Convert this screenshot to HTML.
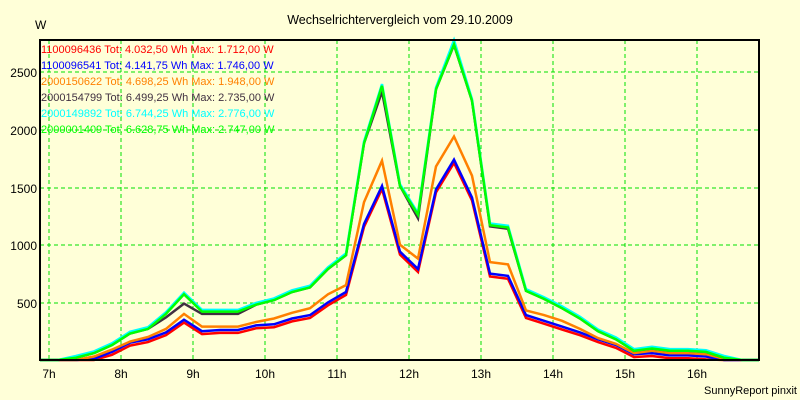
<!DOCTYPE html>
<html><head><meta charset="utf-8"><style>
html,body{margin:0;padding:0;background:#ffffd8;}
svg{display:block;font-family:"Liberation Sans",sans-serif;}
</style></head><body>
<svg id="s" width="800" height="400" xmlns="http://www.w3.org/2000/svg">
<rect width="800" height="400" fill="#ffffd8"/>
<text x="400" y="24" font-size="12.5" text-anchor="middle" fill="#000">Wechselrichtervergleich vom 29.10.2009</text>
<text x="35" y="29" font-size="12" fill="#000">W</text>
<g stroke="#00e000" stroke-width="1" stroke-dasharray="4,3">
<line x1="40" y1="72" x2="759" y2="72"/><line x1="40" y1="130" x2="759" y2="130"/>
<line x1="40" y1="188" x2="759" y2="188"/><line x1="40" y1="245" x2="759" y2="245"/>
<line x1="40" y1="303" x2="759" y2="303"/>
<line x1="49" y1="40" x2="49" y2="360"/><line x1="121" y1="40" x2="121" y2="360"/>
<line x1="193" y1="40" x2="193" y2="360"/><line x1="265" y1="40" x2="265" y2="360"/>
<line x1="337" y1="40" x2="337" y2="360"/><line x1="409" y1="40" x2="409" y2="360"/>
<line x1="481" y1="40" x2="481" y2="360"/><line x1="553" y1="40" x2="553" y2="360"/>
<line x1="625" y1="40" x2="625" y2="360"/><line x1="697" y1="40" x2="697" y2="360"/>
</g>
<g font-size="12" text-anchor="end" fill="#000">
<text x="37" y="77">2500</text><text x="37" y="135">2000</text><text x="37" y="193">1500</text>
<text x="37" y="250">1000</text><text x="37" y="308">500</text>
</g>
<g font-size="12" text-anchor="middle" fill="#000">
<text x="49" y="378">7h</text><text x="121" y="378">8h</text><text x="193" y="378">9h</text>
<text x="265" y="378">10h</text><text x="337" y="378">11h</text><text x="409" y="378">12h</text>
<text x="481" y="378">13h</text><text x="553" y="378">14h</text><text x="625" y="378">15h</text>
<text x="697" y="378">16h</text>
</g>
<text x="797" y="394" font-size="11" text-anchor="end" fill="#000">SunnyReport pinxit</text>
<g id="lines" fill="none" stroke-width="2.5" stroke-linejoin="miter"></g>
<g font-size="11">
<text x="41" y="53" fill="#ff0000">1100096436 Tot: 4.032,50 Wh Max: 1.712,00 W</text>
<text x="41" y="69" fill="#0000ff">1100096541 Tot: 4.141,75 Wh Max: 1.746,00 W</text>
<text x="41" y="85" fill="#ff8000">2000150622 Tot: 4.698,25 Wh Max: 1.948,00 W</text>
<text x="41" y="101" fill="#403040">2000154799 Tot: 6.499,25 Wh Max: 2.735,00 W</text>
<text x="41" y="117" fill="#00ffff">2000149892 Tot: 6.744,25 Wh Max: 2.776,00 W</text>
<text x="41" y="133" fill="#00ff00">2000001409 Tot: 6.628,75 Wh Max: 2.747,00 W</text>
</g>
<rect x="40" y="40" width="719" height="320" fill="none" stroke="#000" stroke-width="2"/>
</svg>
<script>
var green=[0,20,60,130,230,270,400,570,420,420,420,480,520,590,630,790,910,1880,2380,1510,1260,2350,2740,2250,1170,1150,600,530,450,360,250,180,80,100,80,80,70,20,0];
var dark=green.slice();dark[7]=490;dark[8]=400;dark[9]=400;dark[10]=400;dark[6]=370;dark[18]=2330;dark[20]=1230;dark[22]=2735;dark[24]=1160;dark[25]=1140;
var cyan=green.map(function(v){return v>0?v+15:0});cyan[22]=2776;
var orange=[0,0,30,90,160,200,270,400,290,290,290,330,360,410,450,570,650,1370,1730,1000,880,1680,1940,1600,850,830,430,390,340,270,190,140,60,80,60,60,50,10,0];
var blue=[0,0,10,70,150,180,240,350,250,260,260,300,310,360,390,500,590,1180,1510,940,790,1480,1740,1410,750,730,390,340,290,240,180,130,50,60,40,40,30,0,0];
var red=blue.map(function(v){return v>25?v-25:0});red[22]=1712;
var series=[[red,"#ff0000"],[blue,"#0000ff"],[orange,"#ff8000"],[dark,"#403040"],[cyan,"#00ffff"],[green,"#00ff00"]];
var g=document.getElementById("lines");
series.forEach(function(s){
 var pts=["40,360"];
 s[0].forEach(function(v,k){pts.push((58+18*k)+","+(360-v*0.1152).toFixed(1));});
 pts.push("759,360");
 var p=document.createElementNS("http://www.w3.org/2000/svg","polyline");
 p.setAttribute("points",pts.join(" "));p.setAttribute("stroke",s[1]);
 g.appendChild(p);
});
</script>
</body></html>
